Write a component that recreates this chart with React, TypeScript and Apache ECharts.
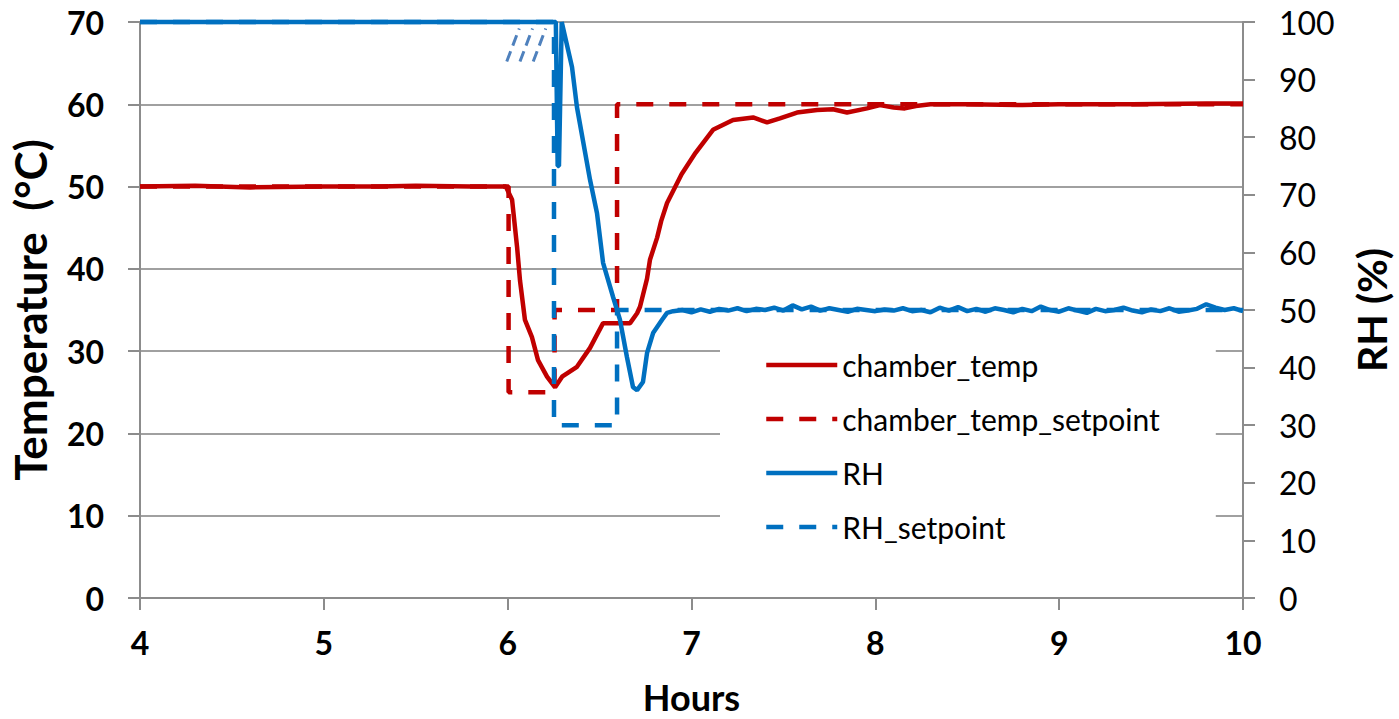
import React, { useEffect, useRef } from "react";
import * as echarts from "echarts";

// ---- Data ----
const hourTicks = [4, 5, 6, 7, 8, 9, 10];

const tempHours = [
  4.0, 4.3, 4.6, 5.0, 5.3, 5.5, 5.8, 5.99, 6.024, 6.051, 6.067, 6.094, 6.132, 6.165, 6.214, 6.258,
  6.296, 6.377, 6.448, 6.519, 6.595, 6.666, 6.704, 6.72, 6.758, 6.774, 6.813, 6.835, 6.867, 6.946,
  7.022, 7.117, 7.226, 7.335, 7.411, 7.481, 7.574, 7.683, 7.77, 7.846, 7.955, 8.025, 8.1, 8.16,
  8.22, 8.3, 8.5, 8.8, 9.0, 9.4, 9.8, 10.0,
];
const tempValues = [
  50.0, 50.1, 49.9, 50.0, 50.0, 50.1, 50.0, 50.0, 48.4, 42.7, 38.6, 33.8, 31.7, 28.9, 26.9, 25.6,
  26.9, 28.1, 30.4, 33.4, 33.4, 33.4, 34.6, 35.4, 38.8, 41.1, 43.8, 45.8, 48.0, 51.5,
  54.1, 56.9, 58.1, 58.4, 57.8, 58.3, 59.0, 59.3, 59.4, 59.0, 59.5, 59.9, 59.6, 59.5,
  59.8, 60.0, 60.0, 59.9, 60.0, 60.0, 60.1, 60.1,
];

const tempSetHours = [4, 6.005, 6.005, 6.255, 6.255, 6.595, 6.595, 10];
const tempSetValues = [50, 50, 25, 25, 35, 35, 60, 60];

const rhHours = [
  4, 5, 6, 6.262, 6.272, 6.279, 6.294, 6.35, 6.377, 6.448, 6.486, 6.519, 6.573, 6.611, 6.649,
  6.682, 6.704, 6.736, 6.758, 6.791, 6.84, 6.867,
  6.9, 6.95, 7.0, 7.05, 7.1, 7.15, 7.2, 7.25, 7.3, 7.35, 7.4, 7.45, 7.5, 7.55, 7.6, 7.65, 7.7,
  7.75, 7.8, 7.85, 7.9, 7.95, 8.0, 8.05, 8.1, 8.15, 8.2, 8.25, 8.3, 8.35, 8.4, 8.45, 8.5, 8.55,
  8.6, 8.65, 8.7, 8.75, 8.8, 8.85, 8.9, 8.95, 9.0, 9.05, 9.1, 9.15, 9.2, 9.25, 9.3, 9.35, 9.4,
  9.45, 9.5, 9.55, 9.6, 9.65, 9.7, 9.75, 9.8, 9.85, 9.9, 9.95, 10.0,
];
const rhValues = [
  100, 100, 100, 100, 75, 75, 100, 92.2, 85.2, 72.6, 66.8, 58.2, 52.3, 48.3, 41.8,
  36.6, 36.1, 37.5, 42.5, 46.0, 48.3, 49.5,
  49.8, 50.0, 49.6, 50.1, 49.7, 50.2, 49.9, 50.3, 49.8, 50.2, 50.0, 50.4, 49.9, 50.8, 50.1, 50.6, 49.9,
  50.3, 50.0, 49.7, 50.2, 50.0, 49.8, 50.1, 49.9, 50.3, 49.8, 50.0, 49.6, 50.4, 49.9, 50.5, 49.8, 50.2,
  49.7, 50.3, 50.0, 49.6, 50.2, 49.8, 50.6, 50.0, 49.7, 50.3, 49.9, 49.5, 50.2, 49.8, 50.0, 50.4, 49.9,
  49.6, 50.1, 49.8, 50.3, 49.7, 49.9, 50.2, 51.0, 50.4, 50.0, 50.3, 49.8,
];

const rhSetHours = [4, 6.252, 6.252, 6.595, 6.595, 10];
const rhSetValues = [100, 100, 30, 30, 50, 50];

// faint slanted dashes near the top (artefact present in the original figure)
const ghostHours = [5.995, 6.063, NaN, 6.067, 6.135, NaN, 6.139, 6.207];
const ghostValues = [65.2, 69.2, NaN, 65.2, 69.2, NaN, 65.2, 69.2];

const zip = (xs: number[], ys: number[]) =>
  xs.map((x, i) => (isNaN(x) ? null : [x, ys[i]]));

const RED = "#C00000";
const BLUE = "#0070C0";
const GRAY = "#8C8C8C";
const FONT = "Lato";
const LW = 4.5;

export default function App() {
  const ref = useRef<HTMLDivElement>(null);

  useEffect(() => {
    if (!ref.current) return;
    const chart = echarts.init(ref.current, undefined, { renderer: "svg" });
    chart.setOption({
      animation: false,
      backgroundColor: "#fff",
      textStyle: { fontFamily: FONT },
      grid: {
        left: 140,
        right: 156,
        top: 22,
        bottom: 121,
        containLabel: false,
        outerBoundsMode: "none",
      },
      legend: {
        data: ["chamber_temp", "chamber_temp_setpoint", "RH", "RH_setpoint"],
        orient: "vertical",
        left: 720,
        top: 330,
        backgroundColor: "#fff",
        padding: [20, 56, 20, 44],
        itemWidth: 71,
        itemHeight: 14,
        itemGap: 24,
        itemStyle: { opacity: 0 },
        lineStyle: { width: LW },
        textStyle: { fontFamily: FONT, fontSize: 30, color: "#000", lineHeight: 30 },
      },
      xAxis: {
        type: "value",
        min: 4,
        max: 10,
        interval: 1,
        name: "Hours",
        nameLocation: "middle",
        nameGap: 82,
        nameTextStyle: {
          fontFamily: FONT,
          fontSize: 36,
          fontWeight: "bold",
          color: "#000",
          lineHeight: 34,
        },
        axisLine: { show: true, lineStyle: { color: GRAY, width: 2 } },
        axisTick: { show: true, length: 12, lineStyle: { color: GRAY, width: 2 } },
        splitLine: { show: false },
        axisLabel: {
          margin: 28,
          fontFamily: FONT,
          fontSize: 32,
          fontWeight: "bold",
          color: "#000",
        },
      },
      yAxis: [
        {
          type: "value",
          min: 0,
          max: 70,
          interval: 10,
          position: "left",
          name: "Temperature  (°C)",
          nameLocation: "middle",
          nameGap: 88,
          nameRotate: 90,
          nameTextStyle: {
            fontFamily: FONT,
            fontSize: 44,
            fontWeight: "bold",
            color: "#000",
            lineHeight: 44,
          },
          axisLine: { show: true, lineStyle: { color: GRAY, width: 2 } },
          axisTick: { show: true, length: 12, lineStyle: { color: GRAY, width: 2 } },
          splitLine: { show: true, lineStyle: { color: "#A0A0A0", width: 2 } },
          axisLabel: {
            margin: 36,
            fontFamily: FONT,
            fontSize: 32,
            fontWeight: "bold",
            color: "#000",
          },
        },
        {
          type: "value",
          min: 0,
          max: 100,
          interval: 10,
          position: "right",
          name: "RH (%)",
          nameLocation: "middle",
          nameGap: 108,
          nameRotate: 90,
          nameTextStyle: {
            fontFamily: FONT,
            fontSize: 41,
            fontWeight: "bold",
            color: "#000",
            lineHeight: 41,
          },
          axisLine: { show: true, lineStyle: { color: GRAY, width: 2 } },
          axisTick: { show: true, length: 12, lineStyle: { color: GRAY, width: 2 } },
          splitLine: { show: false },
          axisLabel: {
            margin: 36,
            fontFamily: FONT,
            fontSize: 32,
            color: "#000",
          },
        },
      ],
      series: [
        {
          name: "chamber_temp",
          type: "line",
          yAxisIndex: 0,
          data: zip(tempHours, tempValues),
          symbol: "none",
          clip: false,
          lineStyle: { color: RED, width: LW },
          itemStyle: { color: RED },
        },
        {
          name: "chamber_temp_setpoint",
          type: "line",
          yAxisIndex: 0,
          data: zip(tempSetHours, tempSetValues),
          symbol: "none",
          clip: false,
          lineStyle: { color: RED, width: LW, type: [17, 16] },
          itemStyle: { color: RED },
        },
        {
          name: "RH",
          type: "line",
          yAxisIndex: 1,
          data: zip(rhHours, rhValues),
          symbol: "none",
          clip: false,
          lineStyle: { color: BLUE, width: LW },
          itemStyle: { color: BLUE },
        },
        {
          name: "RH_setpoint",
          type: "line",
          yAxisIndex: 1,
          data: zip(rhSetHours, rhSetValues),
          symbol: "none",
          clip: false,
          lineStyle: { color: BLUE, width: LW, type: [17, 16] },
          itemStyle: { color: BLUE },
        },
        {
          name: "ghost",
          type: "line",
          yAxisIndex: 0,
          data: zip(ghostHours, ghostValues),
          symbol: "none",
          connectNulls: false,
          clip: false,
          silent: true,
          lineStyle: { color: "#4F81BD", width: 3, type: [11, 6] },
        },
      ],
    });
    return () => chart.dispose();
  }, []);

  return (
    <div
      ref={ref}
      style={{ position: "absolute", left: 0, top: 0, width: 1399, height: 719 }}
    />
  );
}
